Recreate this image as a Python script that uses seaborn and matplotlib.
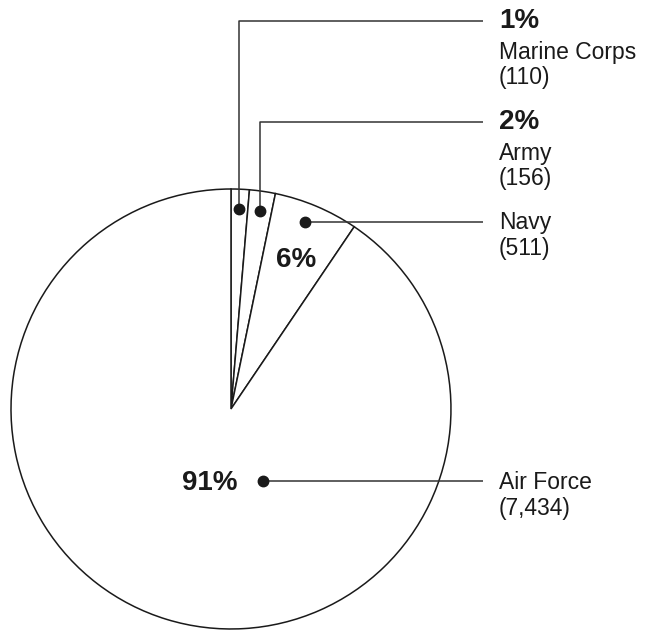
import numpy as np
import matplotlib
matplotlib.use("Agg")
import matplotlib.pyplot as plt
import seaborn as sns

# data
branches = ["Marine Corps", "Army", "Navy", "Air Force"]
counts = [110, 156, 511, 7434]

sns.set_theme(style="white")
plt.rcParams["font.family"] = ["Liberation Sans", "DejaVu Sans"]

total = sum(counts)
pcts = [round(c / total * 100) for c in counts]

fig = plt.figure(figsize=(6.45, 6.3), dpi=100)
ax = fig.add_axes([0, 0, 1, 1])

wedges, _ = ax.pie(counts, startangle=90, counterclock=False, radius=1,
                   colors=["white"] * len(counts),
                   wedgeprops=dict(edgecolor="#1a1a1a", linewidth=1.1))

ax.set_xlim(-1.05, 1.882)
ax.set_ylim(-1.0045, 1.859)
ax.set_aspect("equal")
ax.axis("off")

def wedge_point(w, r, frac=0.5):
    ang = np.deg2rad(w.theta1 + (w.theta2 - w.theta1) * frac)
    return r * np.cos(ang), r * np.sin(ang)

line_kw = dict(color="#333333", lw=1.1, solid_capstyle="butt")
dot_kw = dict(marker="o", ms=7.5, color="#1a1a1a", zorder=5)
reg = 16.5
bold = 20
tx = 1.218
line_end = 1.145

# small wedges: dot inside wedge, leader up then right
label_rows = [1.765, 1.305]
for i, yrow in zip([0, 1], label_rows):
    x, y = wedge_point(wedges[i], 0.91)
    ax.plot([x, x, line_end], [y, yrow, yrow], **line_kw)
    ax.plot(x, y, **dot_kw)
    ax.text(tx, yrow, f"{pcts[i]}%", fontsize=bold, fontweight="bold",
            va="center", ha="left", color="#1a1a1a")
    ax.text(tx, yrow - 0.145, branches[i], fontsize=reg, va="center", ha="left", color="#1a1a1a")
    ax.text(tx, yrow - 0.258, f"({counts[i]:,})", fontsize=reg, va="center", ha="left", color="#1a1a1a")

# Navy: dot with straight leader, percent inside wedge
x, y = wedge_point(wedges[2], 0.914, 0.55)
ax.plot([x, line_end], [y, y], **line_kw)
ax.plot(x, y, **dot_kw)
ax.text(tx, y, branches[2], fontsize=reg, va="center", ha="left", color="#1a1a1a")
ax.text(tx, y - 0.118, f"({counts[2]:,})", fontsize=reg, va="center", ha="left", color="#1a1a1a")
px, py = wedge_point(wedges[2], 0.74, 0.47)
ax.text(px, py, f"{pcts[2]}%", fontsize=bold, fontweight="bold",
        va="center", ha="center", color="#1a1a1a")

# Air Force
x, y = 0.145, -0.327
ax.plot([x, line_end], [y, y], **line_kw)
ax.plot(x, y, **dot_kw)
ax.text(-0.095, y - 0.01, f"{pcts[3]}%", fontsize=bold, fontweight="bold",
        va="center", ha="center", color="#1a1a1a")
ax.text(tx, y - 0.005, branches[3], fontsize=reg, va="center", ha="left", color="#1a1a1a")
ax.text(tx, y - 0.127, f"({counts[3]:,})", fontsize=reg, va="center", ha="left", color="#1a1a1a")

fig.savefig("out.png", dpi=100, facecolor="white")
